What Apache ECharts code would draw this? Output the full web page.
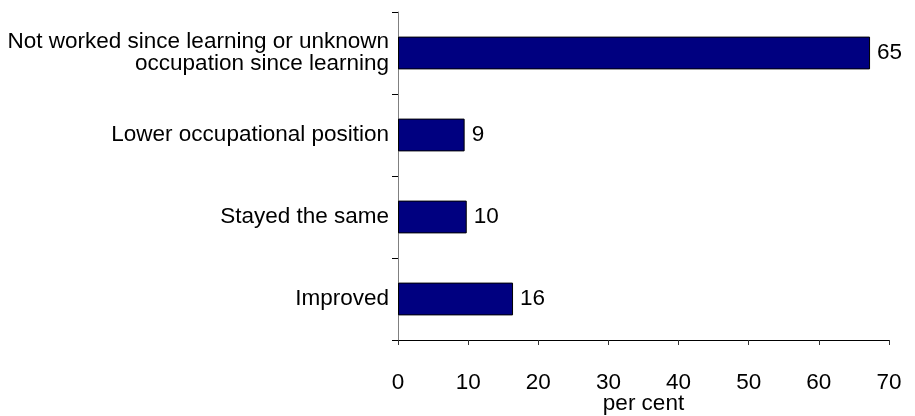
<!DOCTYPE html>
<html>
<head>
<meta charset="utf-8">
<script src="https://cdn.jsdelivr.net/npm/echarts@6/dist/echarts.min.js"></script>
<style>
html,body{margin:0;padding:0;background:#fff;}
#chart{width:915px;height:416px;}
</style>
</head>
<body>
<div id="chart"></div>
<script>
var categories = ['Improved', 'Stayed the same', 'Lower occupational position', 'Not worked since learning or unknown\noccupation since learning'];
var barValues = [16.4, 9.8, 9.5, 67.3];
var labelTexts = ['16', '10', '9', '65'];
var xTicks = [0, 10, 20, 30, 40, 50, 60, 70];

var chart = echarts.init(document.getElementById('chart'));
var font = 'Liberation Sans, Arial, sans-serif';
var fs = 22.5;
chart.setOption({
  backgroundColor: '#ffffff',
  animation: false,
  grid: {left: 398, right: 26, top: 12, bottom: 76, containLabel: false, outerBoundsMode: 'none'},
  xAxis: {
    type: 'value',
    min: xTicks[0],
    max: xTicks[xTicks.length - 1],
    interval: 10,
    name: 'per cent',
    nameLocation: 'middle',
    nameGap: 52,
    nameMoveOverlap: false,
    nameTextStyle: {fontFamily: font, fontSize: fs, color: '#000'},
    axisLine: {show: true, onZero: false, lineStyle: {color: '#000', width: 1}},
    axisTick: {show: true, length: 5, lineStyle: {color: '#333'}},
    splitLine: {show: false},
    axisLabel: {margin: 31, fontFamily: font, fontSize: fs, color: '#000'}
  },
  yAxis: {
    type: 'category',
    data: categories,
    axisLine: {show: true, lineStyle: {color: '#808080', width: 1}},
    axisTick: {show: true, length: 6, lineStyle: {color: '#000'}},
    axisLabel: {margin: 9, fontFamily: font, fontSize: fs, color: '#000', lineHeight: 22, align: 'right'}
  },
  series: [{
    type: 'bar',
    data: barValues,
    barWidth: '40%',
    itemStyle: {color: '#000080', borderColor: '#000', borderWidth: 1},
    label: {
      show: true,
      position: 'right',
      distance: 7,
      fontFamily: font,
      fontSize: fs,
      color: '#000',
      formatter: function (p) { return labelTexts[p.dataIndex]; }
    }
  }]
});
</script>
</body>
</html>
